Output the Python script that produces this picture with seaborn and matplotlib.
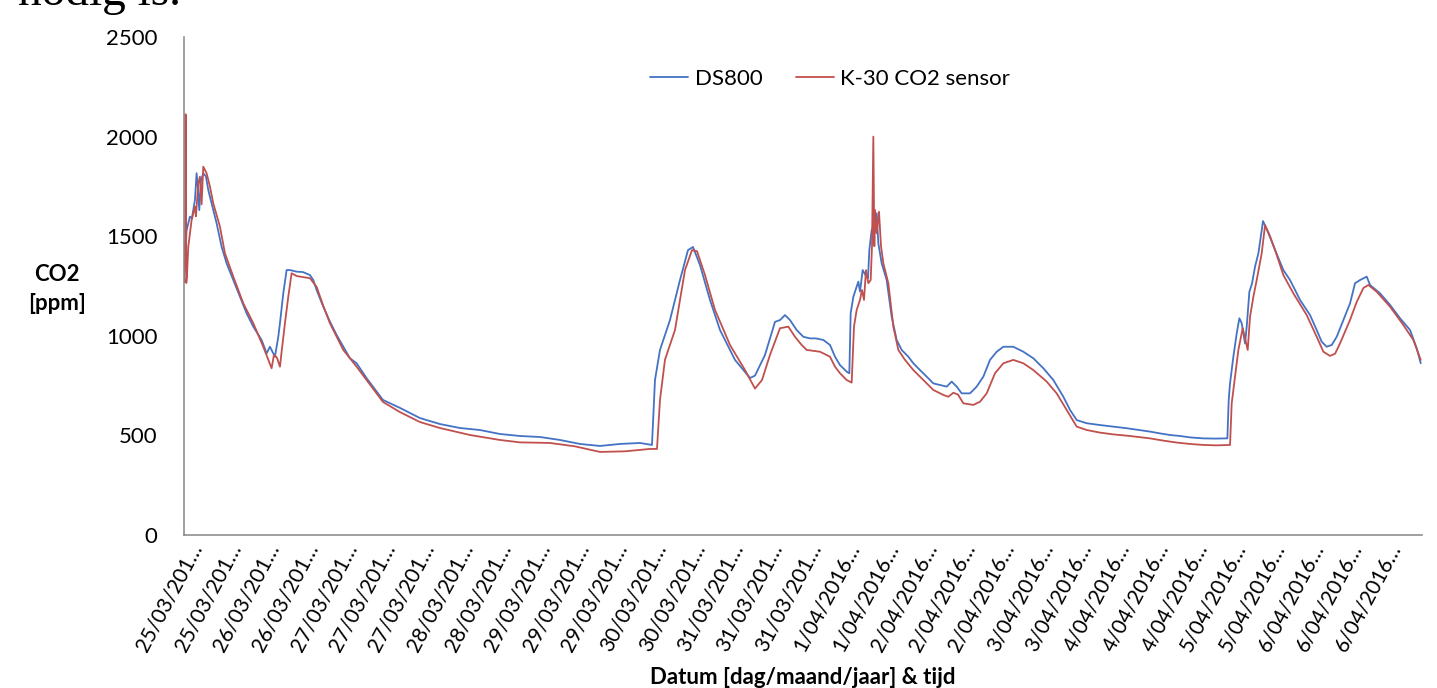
import pandas as pd
import seaborn as sns
import matplotlib.pyplot as plt
from matplotlib.ticker import FixedLocator

ds800_meting = [0, 8, 18, 24, 33, 38, 42, 46, 51, 58, 66, 73, 88, 98, 113, 128, 148, 168, 188, 208,
                233, 248, 258, 273, 283, 288, 298, 308, 318, 338, 357, 378, 388, 398, 418, 438, 458,
                478, 498, 518, 548, 597, 648, 708, 768, 828, 888, 948, 1008, 1068, 1128, 1188, 1248,
                1308, 1368, 1404, 1413, 1428, 1458, 1488, 1512, 1527, 1548, 1578, 1608, 1653, 1698,
                1713, 1743, 1773, 1788, 1803, 1818, 1838, 1858, 1878, 1896, 1918, 1938, 1953, 1968,
                1988, 1996, 2000, 2008, 2018, 2023, 2028, 2036, 2046, 2052, 2056, 2063, 2073, 2078,
                2083, 2093, 2108, 2123, 2138, 2153, 2173, 2188, 2208, 2228, 2248, 2268, 2288, 2303,
                2318, 2333, 2358, 2378, 2398, 2418, 2438, 2458, 2488, 2518, 2548, 2578, 2608, 2638,
                2658, 2678, 2708, 2748, 2788, 2828, 2898, 2928, 2958, 2988, 3018, 3058, 3093, 3130,
                3134, 3138, 3148, 3158, 3166, 3173, 3183, 3188, 3196, 3204, 3213, 3223, 3237, 3252,
                3273, 3298, 3318, 3348, 3378, 3398, 3413, 3428, 3443, 3458, 3478, 3498, 3513, 3528,
                3548, 3558, 3588, 3618, 3648, 3678, 3698, 3710]
ds800_ppm = [1270, 1531, 1598, 1590, 1682, 1816, 1740, 1631, 1780, 1816, 1800, 1732, 1631, 1565, 1447,
             1364, 1280, 1196, 1113, 1046, 979, 912, 945, 895, 995, 1063, 1213, 1330, 1330, 1322, 1320,
             1305, 1280, 1230, 1146, 1071, 1004, 945, 887, 862, 787, 678, 638, 587, 557, 537, 527, 507,
             497, 492, 477, 457, 447, 457, 462, 452, 778, 929, 1079, 1280, 1430, 1446, 1355, 1180, 1029,
             879, 788, 800, 904, 1070, 1079, 1104, 1079, 1029, 995, 987, 987, 979, 954, 895, 853, 820,
             812, 1113, 1196, 1246, 1272, 1222, 1330, 1300, 1290, 1430, 1531, 1564, 1615, 1464, 1364,
             1280, 1096, 979, 929, 895, 862, 828, 795, 761, 753, 745, 770, 745, 711, 711, 745, 795, 879,
             920, 945, 945, 920, 887, 837, 778, 694, 628, 577, 561, 552, 544, 536, 519, 510, 502, 497,
             490, 485, 484, 485, 678, 762, 895, 1012, 1088, 1063, 962, 1046, 1221, 1263, 1347, 1414,
             1576, 1520, 1431, 1330, 1280, 1180, 1104, 1029, 970, 945, 954, 995, 1079, 1163, 1264, 1280,
             1297, 1255, 1213, 1155, 1088, 1029, 937, 862]

k30_meting = [0, 4, 5, 7, 9, 13, 23, 33, 36, 43, 48, 53, 58, 68, 78, 88, 108, 123, 148, 178, 208, 238,
              263, 270, 279, 288, 293, 303, 313, 323, 338, 357, 378, 398, 418, 438, 478, 518, 548, 597,
              648, 708, 768, 858, 948, 1008, 1098, 1173, 1248, 1323, 1398, 1419, 1428, 1443, 1473, 1503,
              1524, 1539, 1563, 1593, 1638, 1683, 1713, 1734, 1758, 1788, 1813, 1833, 1853, 1868, 1908,
              1938, 1953, 1968, 1988, 2003, 2010, 2018, 2028, 2034, 2040, 2046, 2053, 2060, 2064, 2068,
              2071, 2073, 2078, 2085, 2091, 2098, 2113, 2128, 2143, 2163, 2188, 2218, 2248, 2278, 2293,
              2308, 2322, 2338, 2368, 2388, 2408, 2433, 2458, 2488, 2518, 2548, 2588, 2618, 2648, 2678,
              2708, 2748, 2788, 2838, 2898, 2937, 2978, 3018, 3058, 3096, 3138, 3143, 3153, 3163, 3176,
              3191, 3198, 3208, 3218, 3233, 3243, 3258, 3273, 3298, 3328, 3368, 3398, 3418, 3438, 3453,
              3468, 3498, 3518, 3538, 3553, 3578, 3618, 3658, 3688, 3710]
k30_ppm = [1270, 1500, 2112, 1265, 1297, 1447, 1581, 1648, 1600, 1765, 1799, 1660, 1849, 1816, 1749,
           1665, 1548, 1414, 1297, 1163, 1063, 945, 837, 904, 890, 845, 920, 1063, 1196, 1314, 1300,
           1295, 1289, 1246, 1150, 1063, 929, 845, 778, 668, 617, 567, 537, 502, 477, 465, 462, 445,
           417, 420, 432, 432, 678, 880, 1029, 1330, 1430, 1425, 1305, 1130, 954, 828, 735, 778, 904,
           1038, 1046, 995, 954, 929, 920, 895, 845, 812, 778, 765, 1046, 1130, 1180, 1230, 1180, 1330,
           1264, 1280, 1450, 2000, 1450, 1632, 1515, 1623, 1450, 1364, 1264, 1046, 929, 879, 828, 778,
           728, 703, 694, 714, 705, 661, 653, 669, 711, 812, 862, 879, 862, 828, 770, 711, 628, 544,
           527, 514, 505, 497, 485, 474, 464, 457, 452, 450, 452, 661, 795, 929, 1038, 929, 1096, 1196,
           1280, 1414, 1555, 1500, 1431, 1305, 1213, 1104, 995, 920, 899, 910, 962, 1080, 1170, 1240,
           1255, 1221, 1146, 1054, 979, 879]

date_labels = ['25/03/201…', '25/03/201…', '26/03/201…', '26/03/201…', '27/03/201…', '27/03/201…',
               '27/03/201…', '28/03/201…', '28/03/201…', '29/03/201…', '29/03/201…', '29/03/201…',
               '30/03/201…', '30/03/201…', '31/03/201…', '31/03/201…', '31/03/201…', '1/04/2016…',
               '1/04/2016…', '2/04/2016…', '2/04/2016…', '2/04/2016…', '3/04/2016…', '3/04/2016…',
               '4/04/2016…', '4/04/2016…', '4/04/2016…', '5/04/2016…', '5/04/2016…', '6/04/2016…',
               '6/04/2016…', '6/04/2016…']
label_step = 116   # Excel shows a label every 116 points
tick_step = 200    # and a tick mark every 200 points
n_points = 3714

df = pd.concat([
    pd.DataFrame({'meting': ds800_meting, 'ppm': ds800_ppm, 'sensor': 'DS800'}),
    pd.DataFrame({'meting': k30_meting, 'ppm': k30_ppm, 'sensor': 'K-30 CO2 sensor'}),
])

sns.set_style('white')
plt.rcParams['font.family'] = ['Lato', 'DejaVu Sans']
plt.rcParams['text.color'] = 'black'
grey = '#868686'

fig = plt.figure(figsize=(14.37, 6.88), dpi=100)
ax = fig.add_axes([0.128, 0.2224, 0.8616, 0.7238])

sns.lineplot(data=df, x='meting', y='ppm', hue='sensor', estimator=None, sort=False,
             palette={'DS800': '#4472C4', 'K-30 CO2 sensor': '#C0504D'}, linewidth=1.3, ax=ax)

ax.set_xlim(0, n_points)
ax.set_ylim(0, 2500)
ax.set_yticks(range(0, 2501, 500))
ax.set_xlabel('')
ax.set_ylabel('')

label_pos = [40 + label_step * i for i in range(len(date_labels))]
ax.set_xticks(label_pos)
ax.set_xticklabels(date_labels)
ax.xaxis.set_minor_locator(FixedLocator(range(0, n_points, tick_step)))
ax.tick_params(axis='x', which='major', length=0, pad=7, labelsize=15, labelcolor='black')
ax.tick_params(axis='x', which='minor', length=6, width=1.1, color=grey, direction='out')
ax.tick_params(axis='y', length=6, width=1.1, color=grey, direction='out', pad=13, labelsize=16,
               labelcolor='black')
plt.setp(ax.get_xticklabels(), rotation=62, ha='right', va='center', rotation_mode='anchor')

for side in ['top', 'right']:
    ax.spines[side].set_visible(False)
for side in ['left', 'bottom']:
    ax.spines[side].set_color(grey)
    ax.spines[side].set_linewidth(1.1)

sns.move_legend(ax, 'center', bbox_to_anchor=(0.522, 0.916), ncol=2, frameon=False, title=None,
                fontsize=16, handlelength=1.7, handletextpad=0.3, columnspacing=1.5)

fig.text(57 / 1437, 1 - 289 / 688, 'CO2\n[ppm]', ha='center', va='center', fontsize=16,
         fontweight='bold', linespacing=1.45)
fig.text(803 / 1437, 1 - 677 / 688, 'Datum [dag/maand/jaar] & tijd', ha='center', va='center',
         fontsize=16, fontweight='bold')
# bit of the document text above the chart
fig.text(181 / 1437, 1 - 5 / 688, 'nodig is.', ha='right', va='baseline', fontsize=34,
         family='Liberation Serif')

plt.savefig('out.png', dpi=100)
